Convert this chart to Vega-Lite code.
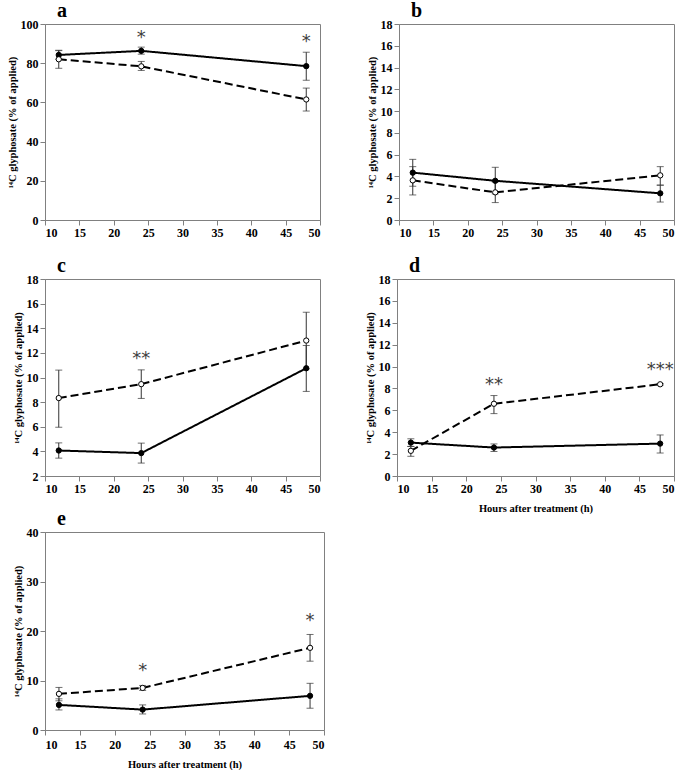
{
  "$schema": "https://vega.github.io/schema/vega-lite/v6.json",
  "padding": {"top": 0, "left": 6, "right": 5, "bottom": 0},
  "background": "white",
  "datasets": {
    "pts": [
      {"panel": "a", "series": "filled", "hour": 12, "value": 84.2, "lo": 82.0, "hi": 86.4},
      {"panel": "a", "series": "filled", "hour": 24, "value": 86.3, "lo": 84.6, "hi": 88.2},
      {"panel": "a", "series": "filled", "hour": 48, "value": 78.5, "lo": 71.3, "hi": 85.6},
      {"panel": "a", "series": "open", "hour": 12, "value": 82.0, "lo": 77.4, "hi": 86.6},
      {"panel": "a", "series": "open", "hour": 24, "value": 78.4, "lo": 76.3, "hi": 80.9},
      {"panel": "a", "series": "open", "hour": 48, "value": 61.5, "lo": 55.6, "hi": 67.3},
      {"panel": "b", "series": "filled", "hour": 12, "value": 4.35, "lo": 3.1, "hi": 5.57},
      {"panel": "b", "series": "filled", "hour": 24, "value": 3.6, "lo": 2.4, "hi": 4.84},
      {"panel": "b", "series": "filled", "hour": 48, "value": 2.45, "lo": 1.65, "hi": 3.2},
      {"panel": "b", "series": "open", "hour": 12, "value": 3.64, "lo": 2.3, "hi": 4.9},
      {"panel": "b", "series": "open", "hour": 24, "value": 2.54, "lo": 1.6, "hi": 3.5},
      {"panel": "b", "series": "open", "hour": 48, "value": 4.1, "lo": 3.2, "hi": 4.9},
      {"panel": "c", "series": "filled", "hour": 12, "value": 4.07, "lo": 3.45, "hi": 4.69},
      {"panel": "c", "series": "filled", "hour": 24, "value": 3.86, "lo": 3.05, "hi": 4.67},
      {"panel": "c", "series": "filled", "hour": 48, "value": 10.75, "lo": 8.87, "hi": 12.6},
      {"panel": "c", "series": "open", "hour": 12, "value": 8.33, "lo": 5.96, "hi": 10.6},
      {"panel": "c", "series": "open", "hour": 24, "value": 9.46, "lo": 8.3, "hi": 10.62},
      {"panel": "c", "series": "open", "hour": 48, "value": 13.0, "lo": 10.7, "hi": 15.3},
      {"panel": "d", "series": "filled", "hour": 12, "value": 3.05, "lo": 2.7, "hi": 3.4},
      {"panel": "d", "series": "filled", "hour": 24, "value": 2.6, "lo": 2.24, "hi": 2.93},
      {"panel": "d", "series": "filled", "hour": 48, "value": 2.96, "lo": 2.1, "hi": 3.75},
      {"panel": "d", "series": "open", "hour": 12, "value": 2.3, "lo": 1.8, "hi": 2.7},
      {"panel": "d", "series": "open", "hour": 24, "value": 6.6, "lo": 5.7, "hi": 7.35},
      {"panel": "d", "series": "open", "hour": 48, "value": 8.38, "lo": 8.3, "hi": 8.45},
      {"panel": "e", "series": "filled", "hour": 12, "value": 5.07, "lo": 4.05, "hi": 6.3},
      {"panel": "e", "series": "filled", "hour": 24, "value": 4.12, "lo": 3.24, "hi": 5.07},
      {"panel": "e", "series": "filled", "hour": 48, "value": 6.9, "lo": 4.4, "hi": 9.43},
      {"panel": "e", "series": "open", "hour": 12, "value": 7.3, "lo": 5.9, "hi": 8.6},
      {"panel": "e", "series": "open", "hour": 24, "value": 8.5, "lo": 8.0, "hi": 9.0},
      {"panel": "e", "series": "open", "hour": 48, "value": 16.6, "lo": 13.9, "hi": 19.3}
    ],
    "stars": [
      {"panel": "a", "hour": 24, "value": 93.0, "label": "*"},
      {"panel": "a", "hour": 48, "value": 91.0, "label": "*"},
      {"panel": "c", "hour": 24, "value": 11.5, "label": "**"},
      {"panel": "d", "hour": 24, "value": 8.3, "label": "**"},
      {"panel": "d", "hour": 48, "value": 9.7, "label": "***"},
      {"panel": "e", "hour": 24, "value": 12.0, "label": "*"},
      {"panel": "e", "hour": 48, "value": 22.0, "label": "*"}
    ]
  },
  "vconcat": [
    {
      "vconcat": [
        {
          "hconcat": [
            {
              "title": "a",
              "width": 275, "height": 196,
              "data": {"name": "pts"},
              "transform": [{"filter": "datum.panel === 'a'"}],
              "encoding": {
                "x": {"field": "hour", "type": "quantitative", "scale": {"domain": [10, 50], "nice": false}, "axis": {"values": [10, 15, 20, 25, 30, 35, 40, 45, 50], "title": null}},
                "y": {"field": "value", "type": "quantitative", "scale": {"domain": [0, 100], "nice": false}, "axis": {"values": [0, 20, 40, 60, 80, 100]}, "title": "¹⁴C glyphosate (% of applied)"}
              },
              "layer": [
                {"mark": {"type": "errorbar", "color": "#333333", "ticks": {"size": 7, "color": "#333333"}}, "encoding": {"y": {"field": "lo", "type": "quantitative", "scale": {"domain": [0, 100], "nice": false}, "title": "¹⁴C glyphosate (% of applied)"}, "y2": {"field": "hi"}}},
                {"mark": {"type": "line", "color": "black", "strokeWidth": 2}, "encoding": {"strokeDash": {"field": "series", "type": "nominal", "scale": {"domain": ["filled", "open"], "range": [[1, 0], [8, 4]]}, "legend": null}}},
                {"mark": {"type": "point", "filled": true, "size": 28, "stroke": "black", "strokeWidth": 1, "opacity": 1}, "encoding": {"fill": {"field": "series", "type": "nominal", "scale": {"domain": ["filled", "open"], "range": ["black", "white"]}, "legend": null}}},
                {"data": {"name": "stars"}, "transform": [{"filter": "datum.panel === 'a'"}], "mark": {"type": "text", "font": "DejaVu Sans", "fontSize": 18, "fill": "#404040", "baseline": "middle"}, "encoding": {"text": {"field": "label"}}}
              ]
            },
            {
              "title": "b",
              "width": 275, "height": 196,
              "data": {"name": "pts"},
              "transform": [{"filter": "datum.panel === 'b'"}],
              "encoding": {
                "x": {"field": "hour", "type": "quantitative", "scale": {"domain": [10, 50], "nice": false}, "axis": {"values": [10, 15, 20, 25, 30, 35, 40, 45, 50], "title": null}},
                "y": {"field": "value", "type": "quantitative", "scale": {"domain": [0, 18], "nice": false}, "axis": {"values": [0, 2, 4, 6, 8, 10, 12, 14, 16, 18]}, "title": "¹⁴C glyphosate (% of applied)"}
              },
              "layer": [
                {"mark": {"type": "errorbar", "color": "#333333", "ticks": {"size": 7, "color": "#333333"}}, "encoding": {"y": {"field": "lo", "type": "quantitative", "scale": {"domain": [0, 18], "nice": false}, "title": "¹⁴C glyphosate (% of applied)"}, "y2": {"field": "hi"}}},
                {"mark": {"type": "line", "color": "black", "strokeWidth": 2}, "encoding": {"strokeDash": {"field": "series", "type": "nominal", "scale": {"domain": ["filled", "open"], "range": [[1, 0], [8, 4]]}, "legend": null}}},
                {"mark": {"type": "point", "filled": true, "size": 28, "stroke": "black", "strokeWidth": 1, "opacity": 1}, "encoding": {"fill": {"field": "series", "type": "nominal", "scale": {"domain": ["filled", "open"], "range": ["black", "white"]}, "legend": null}}}
              ]
            }
          ],
          "spacing": 45
        },
        {
          "hconcat": [
            {
              "title": "c",
              "width": 275, "height": 197,
              "data": {"name": "pts"},
              "transform": [{"filter": "datum.panel === 'c'"}],
              "encoding": {
                "x": {"field": "hour", "type": "quantitative", "scale": {"domain": [10, 50], "nice": false}, "axis": {"values": [10, 15, 20, 25, 30, 35, 40, 45, 50], "title": null}},
                "y": {"field": "value", "type": "quantitative", "scale": {"domain": [2, 18], "nice": false, "zero": false}, "axis": {"values": [2, 4, 6, 8, 10, 12, 14, 16, 18]}, "title": "¹⁴C glyphosate (% of applied)"}
              },
              "layer": [
                {"mark": {"type": "errorbar", "color": "#333333", "ticks": {"size": 7, "color": "#333333"}}, "encoding": {"y": {"field": "lo", "type": "quantitative", "scale": {"domain": [2, 18], "nice": false, "zero": false}, "title": "¹⁴C glyphosate (% of applied)"}, "y2": {"field": "hi"}}},
                {"mark": {"type": "line", "color": "black", "strokeWidth": 2}, "encoding": {"strokeDash": {"field": "series", "type": "nominal", "scale": {"domain": ["filled", "open"], "range": [[1, 0], [8, 4]]}, "legend": null}}},
                {"mark": {"type": "point", "filled": true, "size": 28, "stroke": "black", "strokeWidth": 1, "opacity": 1}, "encoding": {"fill": {"field": "series", "type": "nominal", "scale": {"domain": ["filled", "open"], "range": ["black", "white"]}, "legend": null}}},
                {"data": {"name": "stars"}, "transform": [{"filter": "datum.panel === 'c'"}], "mark": {"type": "text", "font": "DejaVu Sans", "fontSize": 18, "fill": "#404040", "baseline": "middle"}, "encoding": {"text": {"field": "label"}}}
              ]
            },
            {
              "title": "d",
              "width": 277, "height": 197,
              "data": {"name": "pts"},
              "transform": [{"filter": "datum.panel === 'd'"}],
              "encoding": {
                "x": {"field": "hour", "type": "quantitative", "scale": {"domain": [10, 50], "nice": false}, "axis": {"values": [10, 15, 20, 25, 30, 35, 40, 45, 50], "title": "Hours after treatment (h)", "titlePadding": 9}},
                "y": {"field": "value", "type": "quantitative", "scale": {"domain": [0, 18], "nice": false}, "axis": {"values": [0, 2, 4, 6, 8, 10, 12, 14, 16, 18]}, "title": "¹⁴C glyphosate (% of applied)"}
              },
              "layer": [
                {"mark": {"type": "errorbar", "color": "#333333", "ticks": {"size": 7, "color": "#333333"}}, "encoding": {"y": {"field": "lo", "type": "quantitative", "scale": {"domain": [0, 18], "nice": false}, "title": "¹⁴C glyphosate (% of applied)"}, "y2": {"field": "hi"}}},
                {"mark": {"type": "line", "color": "black", "strokeWidth": 2}, "encoding": {"strokeDash": {"field": "series", "type": "nominal", "scale": {"domain": ["filled", "open"], "range": [[1, 0], [8, 4]]}, "legend": null}}},
                {"mark": {"type": "point", "filled": true, "size": 28, "stroke": "black", "strokeWidth": 1, "opacity": 1}, "encoding": {"fill": {"field": "series", "type": "nominal", "scale": {"domain": ["filled", "open"], "range": ["black", "white"]}, "legend": null}}},
                {"data": {"name": "stars"}, "transform": [{"filter": "datum.panel === 'd'"}], "mark": {"type": "text", "font": "DejaVu Sans", "fontSize": 18, "fill": "#404040", "baseline": "middle"}, "encoding": {"text": {"field": "label"}}}
              ]
            }
          ],
          "spacing": 43
        }
      ],
      "spacing": 16
    },
    {
      "title": "e",
      "width": 279, "height": 198,
      "data": {"name": "pts"},
      "transform": [{"filter": "datum.panel === 'e'"}],
      "encoding": {
        "x": {"field": "hour", "type": "quantitative", "scale": {"domain": [10, 50], "nice": false}, "axis": {"values": [10, 15, 20, 25, 30, 35, 40, 45, 50], "title": "Hours after treatment (h)", "titlePadding": 9, "labelPadding": 4}},
        "y": {"field": "value", "type": "quantitative", "scale": {"domain": [0, 40], "nice": false}, "axis": {"values": [0, 10, 20, 30, 40]}, "title": "¹⁴C glyphosate (% of applied)"}
      },
      "layer": [
        {"mark": {"type": "errorbar", "color": "#333333", "ticks": {"size": 7, "color": "#333333"}}, "encoding": {"y": {"field": "lo", "type": "quantitative", "scale": {"domain": [0, 40], "nice": false}, "title": "¹⁴C glyphosate (% of applied)"}, "y2": {"field": "hi"}}},
        {"mark": {"type": "line", "color": "black", "strokeWidth": 2}, "encoding": {"strokeDash": {"field": "series", "type": "nominal", "scale": {"domain": ["filled", "open"], "range": [[1, 0], [8, 4]]}, "legend": null}}},
        {"mark": {"type": "point", "filled": true, "size": 28, "stroke": "black", "strokeWidth": 1, "opacity": 1}, "encoding": {"fill": {"field": "series", "type": "nominal", "scale": {"domain": ["filled", "open"], "range": ["black", "white"]}, "legend": null}}},
        {"data": {"name": "stars"}, "transform": [{"filter": "datum.panel === 'e'"}], "mark": {"type": "text", "font": "DejaVu Sans", "fontSize": 18, "fill": "#404040", "baseline": "middle"}, "encoding": {"text": {"field": "label"}}}
      ]
    }
  ],
  "spacing": -6,
  "config": {
    "font": "Liberation Serif",
    "view": {"stroke": "#808080", "strokeWidth": 1},
    "axis": {
      "labelFont": "Liberation Serif", "labelFontWeight": "bold", "labelFontSize": 12, "labelColor": "black",
      "titleFont": "Liberation Serif", "titleFontWeight": "bold", "titleFontSize": 10.5, "titleColor": "black",
      "domainColor": "#808080", "tickColor": "#808080", "grid": false, "tickSize": 5, "titlePadding": 3
    },
    "title": {"font": "Liberation Serif", "fontSize": 20, "fontWeight": "bold", "color": "black", "anchor": "start", "frame": "group", "offset": -3, "dx": 12, "baseline": "alphabetic"}
  }
}
